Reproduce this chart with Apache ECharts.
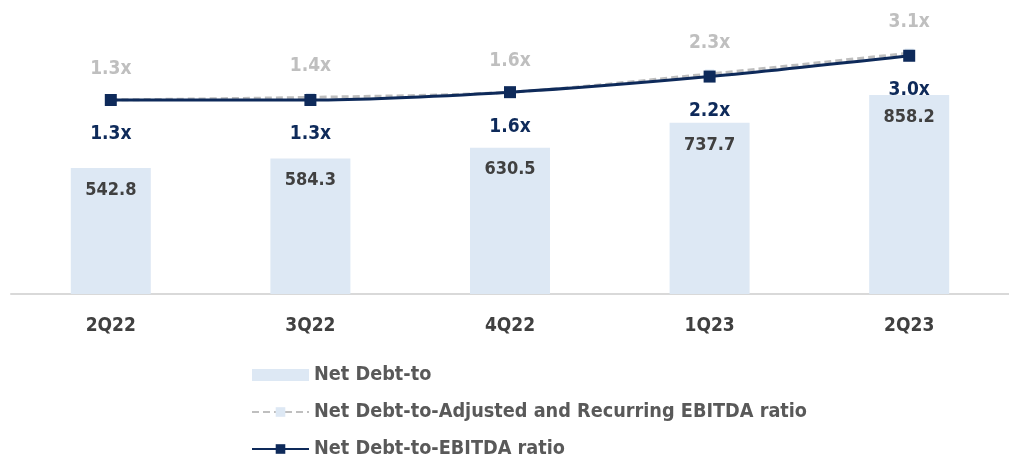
<!DOCTYPE html>
<html>
<head>
<meta charset="utf-8">
<script src="https://cdn.jsdelivr.net/npm/echarts@6/dist/echarts.min.js"></script>
<style>
html, body { margin: 0; padding: 0; background: #fff; }
#chart { width: 1009px; height: 458px; }
</style>
</head>
<body>
<div id="chart"></div>
<script>
const categories = ['2Q22', '3Q22', '4Q22', '1Q23', '2Q23'];
const netDebt = [542.8, 584.3, 630.5, 737.7, 858.2];
const adjustedRatio = [1.3, 1.4, 1.6, 2.3, 3.1];
const ebitdaRatio = [1.3, 1.3, 1.6, 2.2, 3.0];

const font = '"Liberation Sans Narrow", "DejaVu Sans Condensed", "Liberation Sans", sans-serif';

const myChart = echarts.init(document.getElementById('chart'));
const option = {
    animation: false,
    textStyle: { fontFamily: font },
    grid: { left: 11, top: 62, width: 1010, height: 232 },
    legend: {
        orient: 'vertical',
        left: 246,
        top: 360,
        height: 110,
        itemWidth: 57,
        itemHeight: 12,
        itemGap: 17,
        textStyle: { fontFamily: font, fontSize: 19.7, fontWeight: 'bold', color: '#595959' },
        data: [
            { name: 'Net Debt-to', icon: 'rect' },
            'Net Debt-to-Adjusted and Recurring EBITDA ratio',
            'Net Debt-to-EBITDA ratio'
        ]
    },
    xAxis: {
        type: 'category',
        data: categories,
        axisLine: { lineStyle: { color: '#d9d9d9', width: 2 } },
        axisTick: { show: false },
        axisLabel: { margin: 23, fontFamily: font, fontSize: 19, fontWeight: 'bold', color: '#404040' }
    },
    yAxis: [
        { type: 'value', min: 0, max: 1000, show: false },
        { type: 'value', min: -6.16, max: 2.76, show: false }
    ],
    series: [
        {
            name: 'Net Debt-to',
            type: 'bar',
            barWidth: 80,
            data: netDebt,
            itemStyle: { color: '#dde8f4' },
            label: {
                show: true,
                position: 'insideTop',
                distance: 13,
                fontFamily: font,
                fontSize: 18,
                fontWeight: 'bold',
                color: '#404040',
                formatter: p => p.value.toFixed(1)
            }
        },
        {
            name: 'Net Debt-to-Adjusted and Recurring EBITDA ratio',
            type: 'line',
            yAxisIndex: 1,
            smooth: 0.3,
            clip: false,
            data: adjustedRatio,
            symbol: 'rect',
            symbolSize: 9,
            itemStyle: { color: '#dde8f4' },
            lineStyle: { color: '#bfbfbf', width: 3, type: [7, 4] },
            label: {
                show: true,
                position: 'top',
                distance: 17,
                fontFamily: font,
                fontSize: 19,
                fontWeight: 'bold',
                color: '#bfbfbf',
                formatter: p => p.value.toFixed(1) + 'x'
            }
        },
        {
            name: 'Net Debt-to-EBITDA ratio',
            type: 'line',
            yAxisIndex: 1,
            smooth: 0.3,
            clip: false,
            data: ebitdaRatio,
            symbol: 'rect',
            symbolSize: 12,
            itemStyle: { color: '#0e2a5a' },
            lineStyle: { color: '#0e2a5a', width: 3 },
            label: {
                show: true,
                position: 'bottom',
                distance: 19,
                fontFamily: font,
                fontSize: 19,
                fontWeight: 'bold',
                color: '#0e2a5a',
                formatter: p => p.value.toFixed(1) + 'x'
            }
        }
    ]
};
myChart.setOption(option);
</script>
</body>
</html>
